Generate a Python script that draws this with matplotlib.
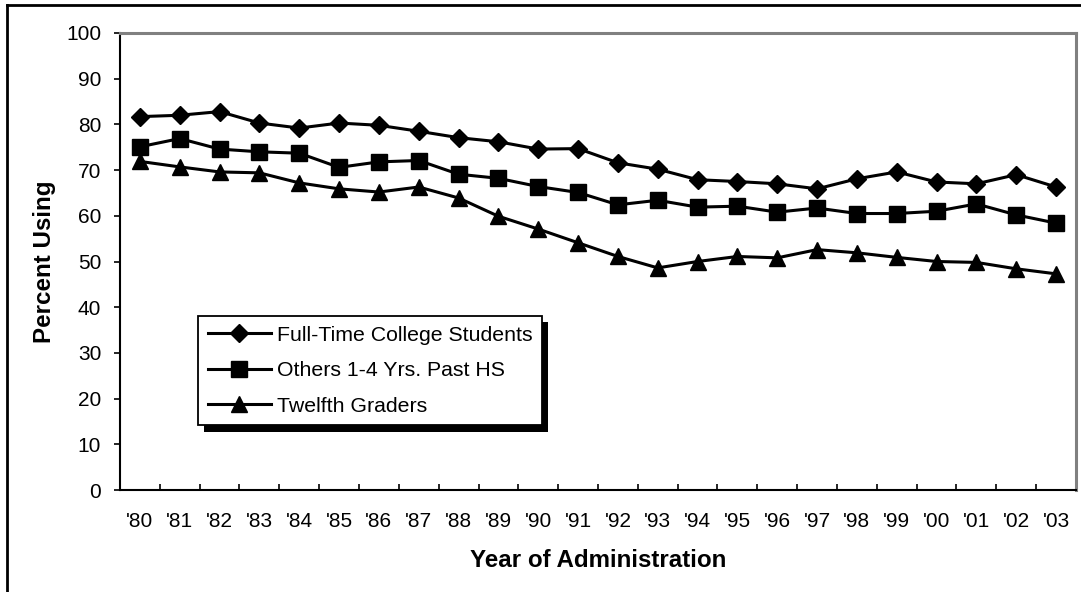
import matplotlib
matplotlib.use('Agg')
import matplotlib.pyplot as plt
import matplotlib.patheffects as pe
from matplotlib.lines import Line2D
import numpy as np

plt.rcParams['font.family'] = ['Liberation Sans', 'DejaVu Sans']

years = ["'80", "'81", "'82", "'83", "'84", "'85", "'86", "'87", "'88", "'89", "'90", "'91",
         "'92", "'93", "'94", "'95", "'96", "'97", "'98", "'99", "'00", "'01", "'02", "'03"]

college = [81.7, 82.0, 82.8, 80.3, 79.2, 80.3, 79.8, 78.5, 77.1, 76.2, 74.6, 74.7,
           71.6, 70.2, 67.9, 67.5, 67.0, 65.9, 68.1, 69.6, 67.4, 67.0, 69.0, 66.3]
others = [75.1, 76.9, 74.6, 74.0, 73.7, 70.6, 71.8, 72.1, 69.1, 68.2, 66.4, 65.1,
          62.4, 63.4, 61.9, 62.1, 60.8, 61.7, 60.5, 60.5, 61.0, 62.6, 60.2, 58.4]
twelfth = [71.9, 70.7, 69.6, 69.4, 67.2, 65.9, 65.2, 66.3, 63.9, 59.9, 57.1, 54.1,
           51.1, 48.6, 50.0, 51.1, 50.8, 52.6, 51.9, 50.9, 50.0, 49.8, 48.4, 47.3]

W, H = 1081, 592
fig = plt.figure(figsize=(W / 100, H / 100), dpi=100)
ax = fig.add_axes([120 / W, 1 - 490 / H, (1076 - 120) / W, (490 - 33) / H])

x = np.arange(len(years))
ax.plot(x, college, color='black', lw=2.2, marker='D', ms=9, label='Full-Time College Students')
ax.plot(x, others, color='black', lw=2.2, marker='s', ms=11, label='Others 1-4 Yrs. Past HS')
ax.plot(x, twelfth, color='black', lw=2.2, marker='^', ms=11, label='Twelfth Graders')

ax.set_xlim(-0.5, len(years) - 0.5)
ax.set_ylim(0, 100)
ax.set_yticks(range(0, 101, 10))
ax.set_xticks(x)
ax.set_xticklabels(years)
ax.set_xticks(np.arange(-0.5, len(years), 1), minor=True)
ax.tick_params(axis='x', which='major', length=0, pad=16, labelsize=15)
ax.tick_params(axis='x', which='minor', direction='in', length=4.5, width=1.2)
ax.tick_params(axis='y', direction='out', length=4.5, width=1.2, pad=9, labelsize=15)

for s in ['left', 'bottom']:
    ax.spines[s].set_linewidth(1.5)
    ax.spines[s].set_color('black')
for s in ['top', 'right']:
    ax.spines[s].set_linewidth(2.2)
    ax.spines[s].set_color('#808080')

ax.set_ylabel('Percent Using', fontsize=17.4, fontweight='bold', labelpad=7)
ax.set_xlabel('Year of Administration', fontsize=17.4, fontweight='bold', labelpad=13)

leg = ax.legend(loc='upper left', bbox_to_anchor=(198 / W, 1 - 316 / H),
                bbox_transform=fig.transFigure, borderaxespad=0, fontsize=15.3,
                frameon=True, fancybox=False, edgecolor='black', framealpha=1,
                handlelength=3.0, handletextpad=0.25, borderpad=0.45, labelspacing=0.78)
leg.get_frame().set_linewidth(1.3)
leg.get_frame().set_path_effects([pe.SimplePatchShadow(offset=(4.5, -4.5), shadow_rgbFace='black', alpha=1),
                                  pe.Normal()])

# outer frame of the picture
fig.add_artist(Line2D([7 / W, 7 / W], [0, 1 - 5 / H], transform=fig.transFigure, color='black', lw=2))
fig.add_artist(Line2D([7 / W, 1], [1 - 5 / H, 1 - 5 / H], transform=fig.transFigure, color='black', lw=2))

fig.savefig('out.png', dpi=100)
